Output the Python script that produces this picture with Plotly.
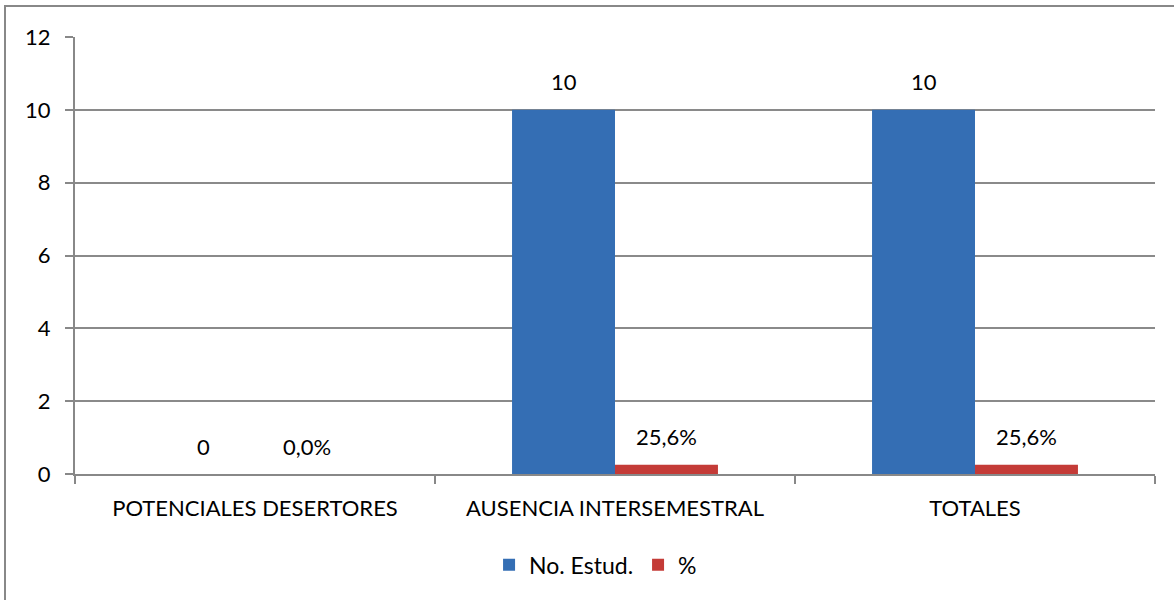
import plotly.graph_objects as go

categories = ["POTENCIALES DESERTORES", "AUSENCIA INTERSEMESTRAL", "TOTALES"]
estud = [0, 10, 10]
pct = [0.0, 0.256, 0.256]
y_ticks = [0, 2, 4, 6, 8, 10, 12]

FONT = "Lato"
fig = go.Figure()
fig.add_trace(go.Bar(name="No. Estud.", x=categories, y=estud,
                     marker=dict(color="#346eb4", line=dict(width=0))))
fig.add_trace(go.Bar(name="%", x=categories, y=pct,
                     marker=dict(color="#c43b37", line=dict(width=0))))

half = 51.5
for c, v in zip(categories, estud):
    fig.add_annotation(x=c, y=v, xref="x", yref="y", text=f"{v}", showarrow=False,
                       xshift=-half, yshift=28, yanchor="middle",
                       font=dict(family=FONT, size=22, color="#000"))
for c, v in zip(categories, pct):
    t = f"{v*100:.1f}".replace(".", ",") + "%"
    fig.add_annotation(x=c, y=v, xref="x", yref="y", text=t, showarrow=False,
                       xshift=half, yshift=28, yanchor="middle",
                       font=dict(family=FONT, size=22, color="#000"))

# outer border
fig.add_shape(type="rect", xref="paper", yref="paper",
              x0=(5 - 75) / 1080, x1=(1190 - 75) / 1080,
              y0=-0.4, y1=(474 - 6) / 437,
              line=dict(color="#888888", width=2), fillcolor="rgba(0,0,0,0)", layer="below")

fig.update_layout(
    width=1174, height=600,
    margin=dict(l=75, r=19, t=37, b=126),
    plot_bgcolor="white", paper_bgcolor="white",
    barmode="group", bargap=0.428, bargroupgap=0,
    font=dict(family=FONT, size=22, color="#000"),
    showlegend=True,
    legend=dict(orientation="h", x=0.482, xanchor="center", y=-0.208, yanchor="middle",
                font=dict(family=FONT, size=23), itemwidth=30, traceorder="normal"),
    xaxis=dict(showline=True, linecolor="#888888", linewidth=2,
               ticks="outside", tickson="boundaries", ticklen=8, tickwidth=2, tickcolor="#888888",
               tickfont=dict(family=FONT, size=22), showgrid=False, ticklabelstandoff=14),
    yaxis=dict(range=[0, 12], tickvals=y_ticks, showline=True, linecolor="#888888", linewidth=2,
               ticks="outside", ticklen=8, tickwidth=2, tickcolor="#888888",
               showgrid=True, gridcolor="#8a8a8a", gridwidth=2, zeroline=False,
               tickfont=dict(family=FONT, size=22), ticklabelstandoff=10),
)
fig.write_html("out.html", config={"displayModeBar": False},
               post_script="document.body.style.margin='0';")
